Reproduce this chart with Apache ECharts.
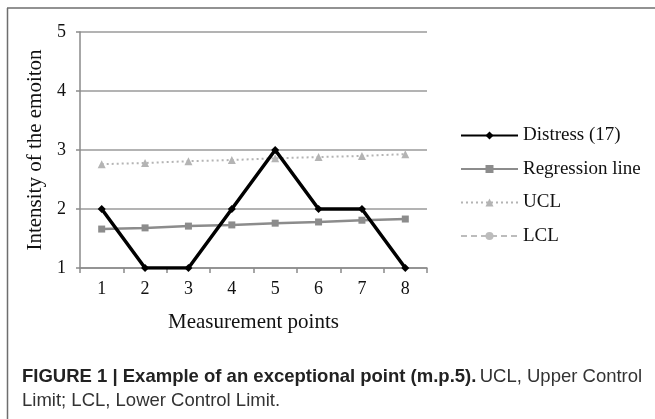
<!DOCTYPE html>
<html>
<head>
<meta charset="utf-8">
<script src="https://cdn.jsdelivr.net/npm/echarts@6/dist/echarts.min.js"></script>
<style>
html,body{margin:0;padding:0;background:#fff;}
#chart{width:655px;height:419px;}
</style>
</head>
<body>
<div id="chart"></div>
<script>
var categories = ['1', '2', '3', '4', '5', '6', '7', '8'];
var distress = [2, 1, 1, 2, 3, 2, 2, 1];
var regression = [1.66, 1.68, 1.71, 1.73, 1.76, 1.78, 1.81, 1.83];
var ucl = [2.76, 2.78, 2.81, 2.83, 2.86, 2.88, 2.90, 2.93];
var lcl = [null, null, null, null, null, null, null, null]; // below the visible range
var seriesNames = ['Distress (17)', 'Regression line', 'UCL', 'LCL'];
var yTicks = [1, 2, 3, 4, 5];

var serif = '"Liberation Serif", "DejaVu Serif", serif';
var sans = '"Liberation Sans", Arial, sans-serif';

var chart = echarts.init(document.getElementById('chart'), null, {renderer: 'canvas'});
chart.setOption({
  animation: false,
  backgroundColor: '#fff',
  grid: {left: 80, right: 228, top: 32, bottom: 151, containLabel: false},
  xAxis: {
    type: 'category',
    data: categories,
    boundaryGap: true,
    name: 'Measurement points',
    nameLocation: 'middle',
    nameGap: 44,
    nameTextStyle: {fontFamily: serif, fontSize: 21, color: '#111'},
    axisLine: {lineStyle: {color: '#8a8a8a', width: 1.5}},
    axisTick: {show: true, length: 5, alignWithLabel: false, lineStyle: {color: '#8a8a8a', width: 1.5}},
    axisLabel: {fontFamily: serif, fontSize: 18, color: '#111', margin: 12}
  },
  yAxis: {
    type: 'value',
    min: yTicks[0],
    max: yTicks[yTicks.length - 1],
    interval: 1,
    name: 'Intensity of the emoiton',
    nameLocation: 'middle',
    nameGap: 33,
    nameTextStyle: {fontFamily: serif, fontSize: 21, color: '#111'},
    axisLine: {show: true, lineStyle: {color: '#8a8a8a', width: 1.5}},
    axisTick: {show: true, length: 4, lineStyle: {color: '#8a8a8a', width: 1.5}},
    axisLabel: {fontFamily: serif, fontSize: 18, color: '#111', margin: 14},
    splitLine: {lineStyle: {color: '#9a9a9a', width: 1.5}}
  },
  legend: {
    orient: 'vertical',
    left: 455,
    top: 121,
    itemWidth: 57,
    itemHeight: 10,
    itemGap: 14.5,
    textStyle: {fontFamily: serif, fontSize: 19, color: '#111', padding: [0, 0, 0, 0]},
    data: seriesNames
  },
  series: [
    {
      name: seriesNames[1], type: 'line', data: regression,
      symbol: 'rect', symbolSize: 7,
      lineStyle: {color: '#8c8c8c', width: 2.5},
      itemStyle: {color: '#8c8c8c'}, z: 2
    },
    {
      name: seriesNames[2], type: 'line', data: ucl,
      symbol: 'triangle', symbolSize: 8,
      lineStyle: {color: '#b4b4b4', width: 2, type: [2, 3]},
      itemStyle: {color: '#b4b4b4'}, z: 2
    },
    {
      name: seriesNames[3], type: 'line', data: lcl,
      symbol: 'circle', symbolSize: 6,
      lineStyle: {color: '#bcbcbc', width: 2, type: [6, 4]},
      itemStyle: {color: '#bcbcbc'}, z: 2
    },
    {
      name: seriesNames[0], type: 'line', data: distress,
      symbol: 'diamond', symbolSize: 8,
      lineStyle: {color: '#000', width: 3.5},
      itemStyle: {color: '#000'}, z: 3
    }
  ],
  graphic: [
    {type: 'line', shape: {x1: 7, y1: 8, x2: 655, y2: 8}, style: {stroke: '#6e6e6e', lineWidth: 1.5}},
    {type: 'line', shape: {x1: 7.5, y1: 8, x2: 7.5, y2: 419}, style: {stroke: '#6e6e6e', lineWidth: 1.5}},
    {
      type: 'text', left: 22, top: 367,
      style: {
        text: '{b|FIGURE 1 | Example of an exceptional point (m.p.5).} {n|UCL, Upper Control}\n{n|Limit; LCL, Lower Control Limit.}',
        rich: {
          b: {fontFamily: sans, fontWeight: 'bold', fontSize: 18.5, fill: '#222', lineHeight: 24},
          n: {fontFamily: sans, fontSize: 18.5, fill: '#333', lineHeight: 24}
        }
      }
    }
  ]
});
</script>
</body>
</html>
